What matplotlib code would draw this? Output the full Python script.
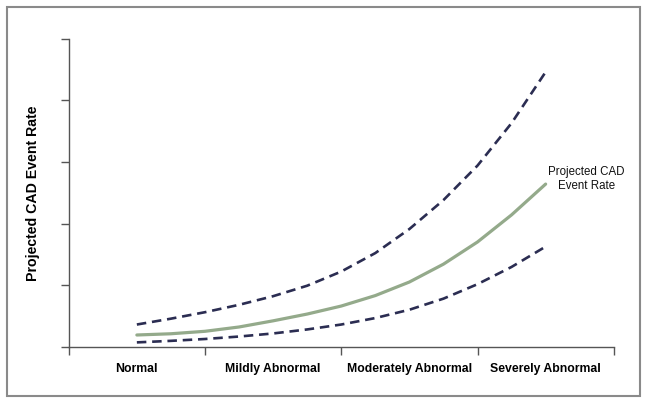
import numpy as np
import matplotlib.pyplot as plt
from matplotlib.patches import Rectangle

plt.rcParams['font.family'] = ['Liberation Sans', 'DejaVu Sans']

categories = ['Normal', 'Mildly Abnormal', 'Moderately Abnormal', 'Severely Abnormal']
x_vals = [0.5, 0.75, 1.0, 1.25, 1.5, 1.75, 2.0, 2.25, 2.5, 2.75, 3.0, 3.25, 3.5]
rate = [0.19, 0.21, 0.25, 0.32, 0.42, 0.53, 0.66, 0.83, 1.05, 1.34, 1.70, 2.14, 2.64]
upper = [0.36, 0.455, 0.56, 0.68, 0.82, 0.99, 1.22, 1.52, 1.91, 2.38, 2.94, 3.63, 4.46]
lower = [0.07, 0.095, 0.125, 0.165, 0.215, 0.28, 0.36, 0.465, 0.60, 0.78, 1.015, 1.295, 1.625]

fig = plt.figure(figsize=(6.49, 4.06), dpi=100)
ax = fig.add_axes([0.1059, 0.1436, 0.8398, 0.7586])

navy = '#2b2d52'
ax.plot(x_vals, upper, color=navy, lw=1.9, dashes=(3.6, 2.2),
        dash_capstyle='butt', dash_joinstyle='round')
ax.plot(x_vals, lower, color=navy, lw=1.9, dashes=(3.6, 2.2),
        dash_capstyle='butt', dash_joinstyle='round')
ax.plot(x_vals, rate, color='#94aa8b', lw=2.3, solid_capstyle='round', solid_joinstyle='round')

# label next to the end of the green curve
ax.text(3.8, 2.74, 'Projected CAD\nEvent Rate', ha='center', va='center',
        fontsize=8.3, linespacing=1.25, color='#111111')

ax.set_xlim(0, 4)
ax.set_ylim(0, 5)
ax.set_xticks([0, 1, 2, 3, 4])
ax.set_xticklabels([])
ax.set_xticks([0.5, 1.5, 2.5, 3.5], categories, minor=True)
ax.set_yticks([0, 1, 2, 3, 4, 5])
ax.set_yticklabels([])
ax.tick_params(which='major', direction='out', length=6, width=1, color='#555555')
ax.tick_params(axis='x', which='minor', length=0, pad=11)
for lab in ax.get_xticklabels(minor=True):
    lab.set_fontweight('bold')
    lab.set_fontsize(8.8)

ax.set_ylabel('Projected CAD Event Rate', fontsize=10.2, fontweight='bold', labelpad=11)

for side in ['top', 'right']:
    ax.spines[side].set_visible(False)
for side in ['left', 'bottom']:
    ax.spines[side].set_color('#555555')
    ax.spines[side].set_linewidth(1)

fig.patches.append(Rectangle((7 / 649, 9 / 406), 633 / 649, 389 / 406, transform=fig.transFigure,
                             fill=False, edgecolor='#8a8a8a', lw=1.5))

fig.savefig('out.png', dpi=100)
